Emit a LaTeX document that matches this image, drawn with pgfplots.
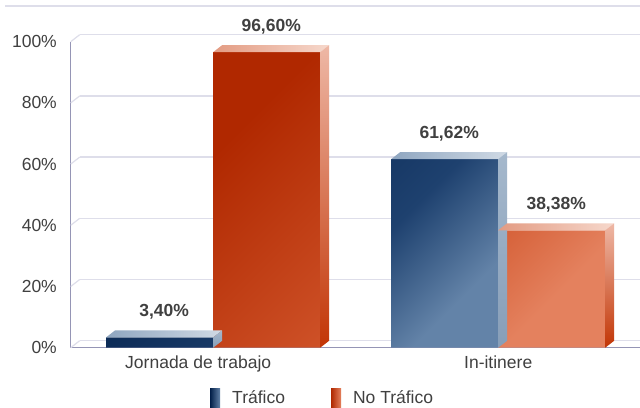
\documentclass[border=0pt]{standalone}
\usepackage{fontspec}
\setmainfont{Liberation Sans}
\usepackage{pgfplots}
\usepackage{pgfplotstable}
\pgfplotsset{compat=1.18}

\definecolor{azulA}{HTML}{03204A}
\definecolor{azulM}{HTML}{1E416F}
\definecolor{azulB}{HTML}{6383A8}
\definecolor{azultopa}{HTML}{8FA6C0}
\definecolor{azultopb}{HTML}{D0DAE5}
\definecolor{azullata}{HTML}{A5B8CC}
\definecolor{azullatb}{HTML}{879EB8}
\definecolor{rojoA}{HTML}{B02800}
\definecolor{rojoM}{HTML}{D0542A}
\definecolor{rojoB}{HTML}{E4815E}
\definecolor{rojotopa}{HTML}{E39B82}
\definecolor{rojotopb}{HTML}{F6D8CC}
\definecolor{rojolata}{HTML}{EEB8A6}
\definecolor{rojolatb}{HTML}{C23505}
\definecolor{ejes}{HTML}{9595B5}
\definecolor{rejilla}{HTML}{DEDEEA}
\definecolor{texto}{HTML}{404040}

% front faces: dark at the top left, light at the bottom right
\pgfdeclareverticalshading{frenteazul}{100bp}{color(0bp)=(azulB); color(25bp)=(azulB);
  color(42bp)=(azulM); color(75bp)=(azulA); color(100bp)=(azulA)}
\pgfdeclareverticalshading{frenterojo}{100bp}{color(0bp)=(rojoB); color(25bp)=(rojoB);
  color(42bp)=(rojoM); color(75bp)=(rojoA); color(100bp)=(rojoA)}

\pgfplotstableread{
cat trafico notrafico
0   3.40    96.60
1   61.62   38.38
}\datos

% top and side faces of a bar, drawn as a mark at the top of its front face
% (point meta 0..100 is mapped to 0..1000, so the height is meta*0.306 bp)
\newcommand\defcubo[5]{%
  \pgfdeclareplotmark{#1}{%
    \pgfmathsetmacro\alto{\pgfplotspointmetatransformed*0.306}%
    \shade[draw=none, left color=#2, right color=#3]
      (-53.5bp,0bp) -- (53.5bp,0bp) -- (62.5bp,7bp) -- (-44.5bp,7bp) -- cycle;
    \shade[draw=none, top color=#4, bottom color=#5]
      (53.5bp,0bp) -- (62.5bp,7bp) -- (62.5bp,7bp-\alto bp) -- (53.5bp,-\alto bp) -- cycle;
  }}
\defcubo{cuboazul}{azultopa}{azultopb}{azullata}{azullatb}
\defcubo{cuborojo}{rojotopa}{rojotopb}{rojolata}{rojolatb}

\newcommand\letra{\fontsize{17.5bp}{21bp}\selectfont}

\begin{document}
\begin{tikzpicture}
\fill[white] (0bp,0bp) rectangle (640bp,408bp);
\useasboundingbox (0bp,0bp) rectangle (640bp,408bp);
\draw[rejilla, line width=2bp] (5bp,402bp) -- (640bp,402bp);

\begin{axis}[
    at={(70.7bp,60.3bp)},
    anchor=south west,
    scale only axis,
    width=570bp,
    height=306bp,
    xmin=-0.5, xmax=1.5,
    ymin=0, ymax=100,
    clip=false,
    axis x line*=bottom,
    axis y line*=left,
    axis line style={ejes, line width=1.3bp},
    major tick length=0pt,
    xtick={0,1},
    xticklabels={\hspace*{-30bp}Jornada de trabajo, In-itinere},
    ytick={0,20,...,100},
    yticklabels={0\%,20\%,40\%,60\%,80\%,100\%},
    tick label style={font=\letra, text=texto},
    yticklabel style={inner sep=0pt, xshift=-13.7bp},
    xticklabel style={inner sep=0pt, anchor=base, yshift=-21bp},
    legend style={
        at={(rel axis cs:0.2444,-0.1326)},
        anchor=north west,
        draw=none, fill=none,
        inner sep=0pt,
        font=\letra, text=texto,
        legend columns=2,
        nodes={inner sep=0pt, text depth=0pt, text height=14bp},
        /tikz/every odd column/.append style={column sep=12bp},
        /tikz/every even column/.append style={column sep=46bp},
    },
    every node near coord/.append style={
        font=\letra\bfseries, text=texto,
        inner sep=0pt, text depth=0pt, yshift=20.6bp,
    },
]

% back wall and side wall grid
\pgfplotsinvokeforeach{0,20,40,60,80,100}{
    \draw[rejilla, line width=1.5bp]
        ([shift={(9bp,7bp)}]axis cs:-0.5,#1) -- ([shift={(9bp,7bp)}]axis cs:1.5,#1);
    \draw[rejilla, line width=1.2bp]
        (axis cs:-0.5,#1) -- ([shift={(9bp,7bp)}]axis cs:-0.5,#1);
}

\addplot[
    ybar, bar width=107bp, bar shift=-53.5bp, draw=none,
    shading=frenteazul, shading angle=45,
    nodes near coords={\pgfmathprintnumber[fixed, fixed zerofill, precision=2,
        use comma, assume math mode=true]{\pgfplotspointmeta}\%},
    every node near coord/.append style={xshift=-49bp},
    legend image code/.code={
        \shade[draw=none, left color=azulA, right color=azulB] (0bp,-11bp) rectangle (10bp,8bp);},
] table[x=cat, y=trafico] {\datos};
\addlegendentry{Tráfico}

\addplot[
    forget plot, only marks, mark=cuboazul, xshift=-53.5bp,
    scatter, scatter/@pre marker code/.code={}, scatter/@post marker code/.code={},
    point meta=y, point meta min=0, point meta max=100,
] table[x=cat, y=trafico] {\datos};

\addplot[
    ybar, bar width=107bp, bar shift=53.5bp, draw=none,
    shading=frenterojo, shading angle=45,
    nodes near coords={\pgfmathprintnumber[fixed, fixed zerofill, precision=2,
        use comma, assume math mode=true]{\pgfplotspointmeta}\%},
    every node near coord/.append style={xshift=58bp},
    legend image code/.code={
        \shade[draw=none, left color=rojoA, right color=rojoB] (0bp,-11bp) rectangle (10bp,8bp);},
] table[x=cat, y=notrafico] {\datos};
\addlegendentry{No Tráfico}

\addplot[
    forget plot, only marks, mark=cuborojo, xshift=53.5bp,
    scatter, scatter/@pre marker code/.code={}, scatter/@post marker code/.code={},
    point meta=y, point meta min=0, point meta max=100,
] table[x=cat, y=notrafico] {\datos};

\end{axis}
\end{tikzpicture}
\end{document}
